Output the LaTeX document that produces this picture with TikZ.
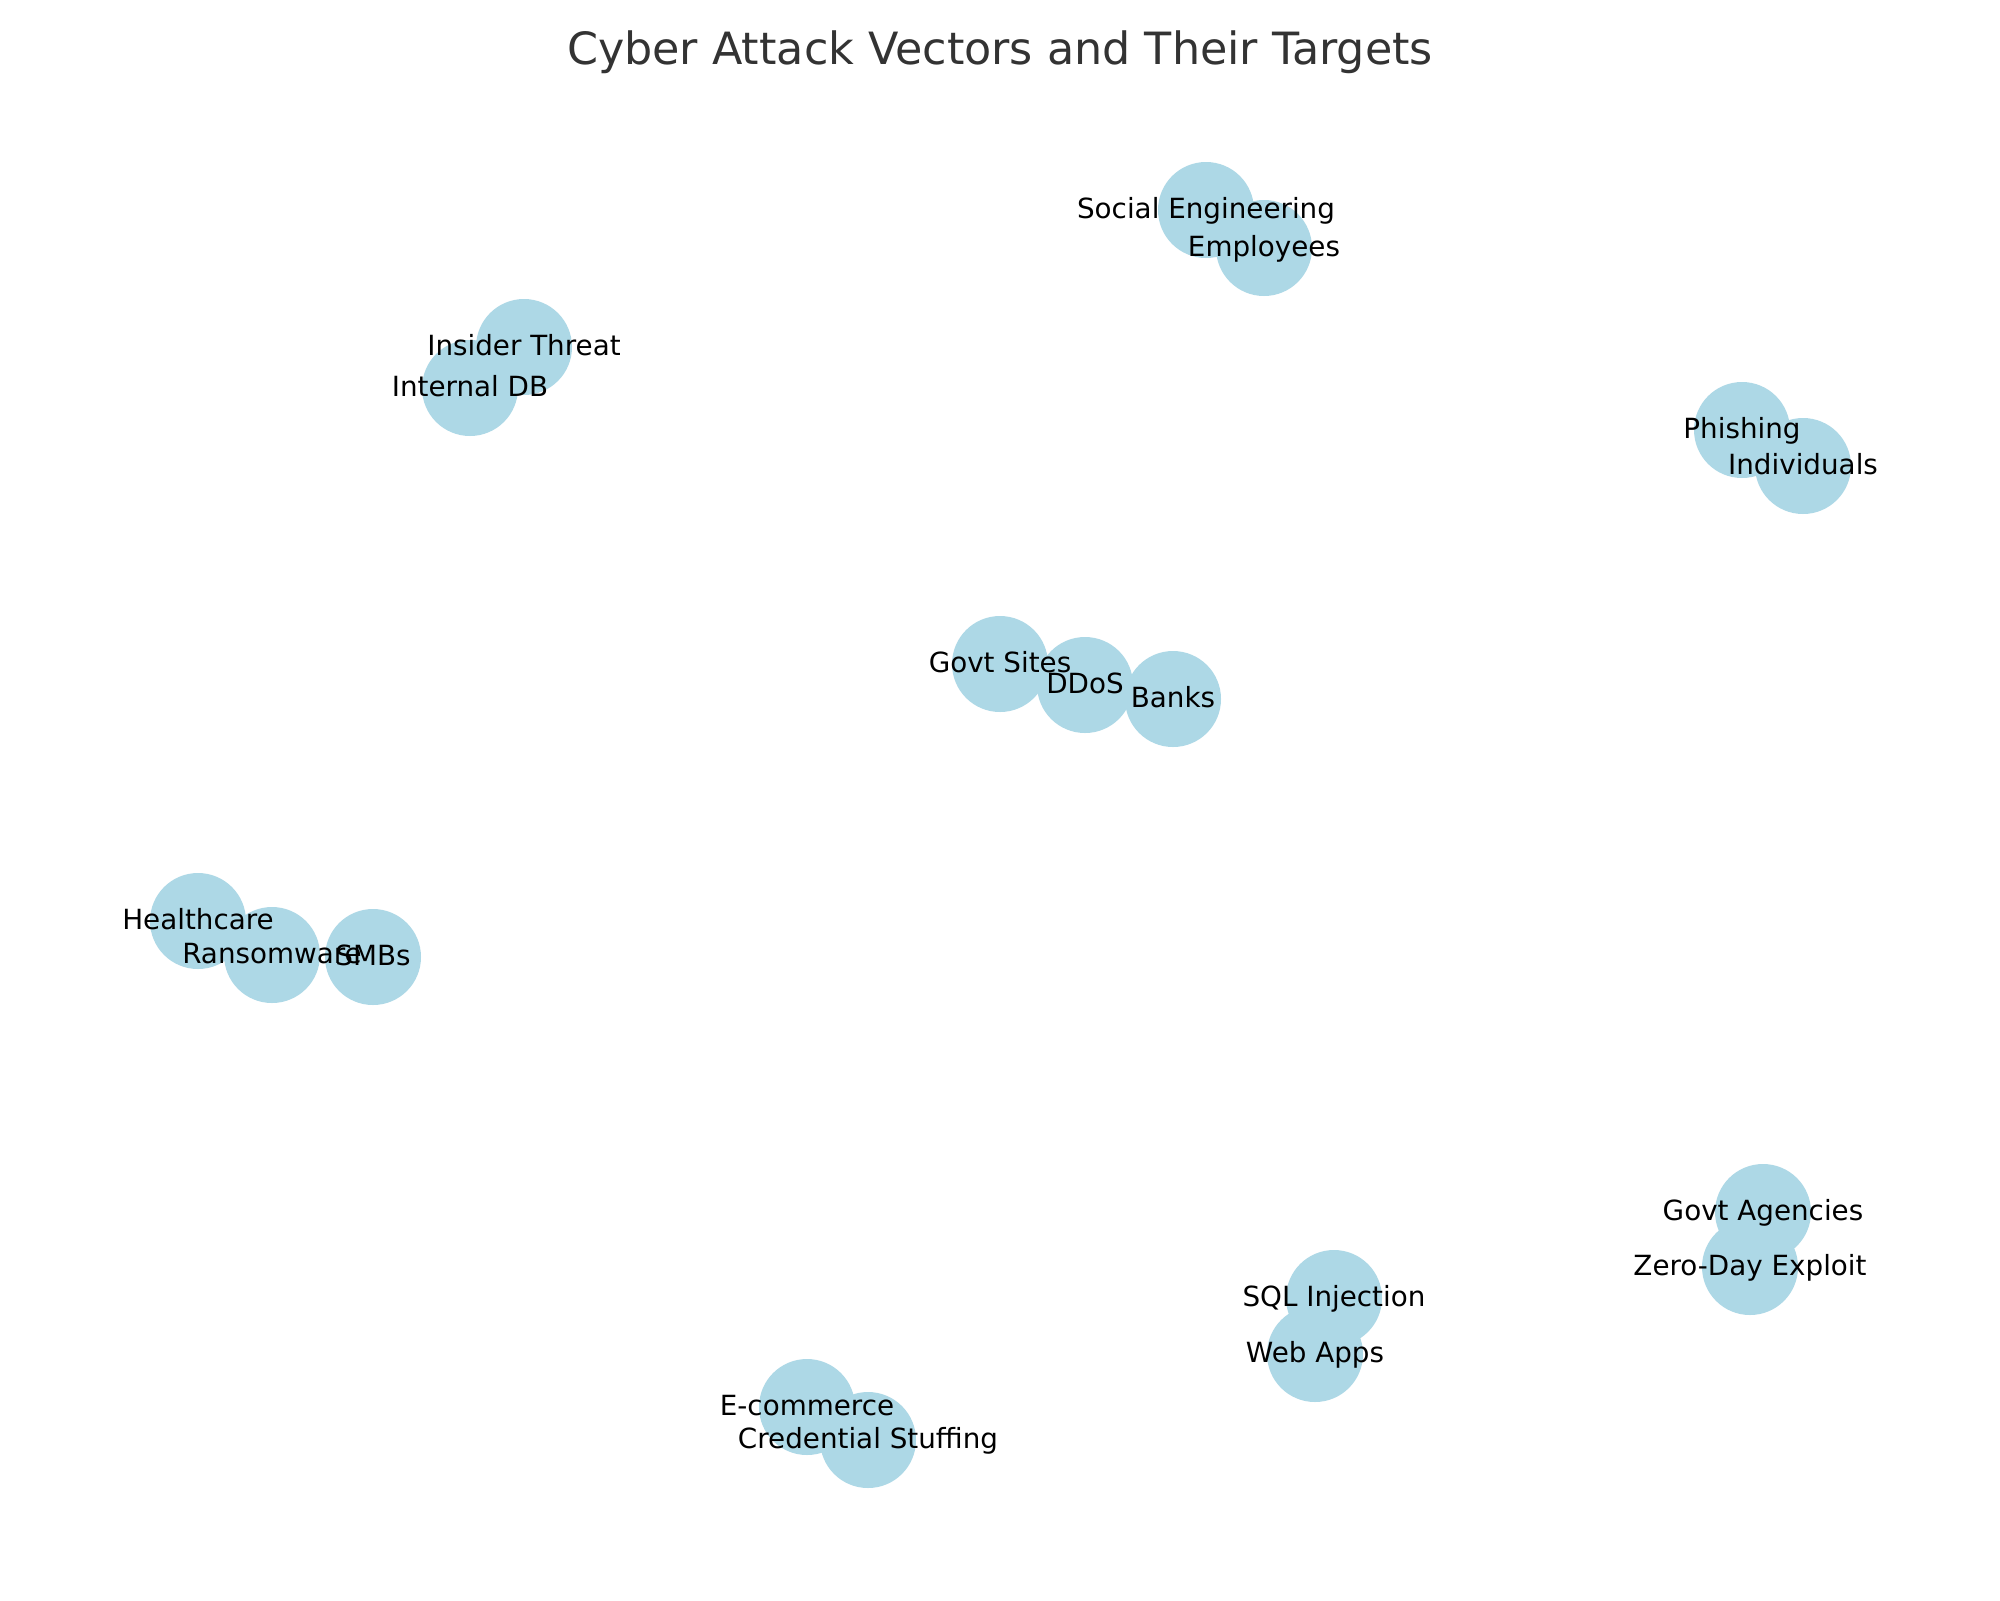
\documentclass[tikz,border=0pt]{standalone}
\usepackage{fontspec}
\setmainfont{DejaVu Sans}
\definecolor{nodeblue}{HTML}{ADD8E6}
\definecolor{titlegray}{HTML}{333333}
\tikzset{
  dot/.style={circle, fill=nodeblue, draw=none, minimum size=34.56pt, inner sep=0pt},
  lbl/.style={anchor=base, inner sep=0pt, font=\fontsize{10}{12}\selectfont, text=black},
}
\newcommand{\gnode}[4]{%
  \node[dot] (#1) at (#2,#3) {};
}
\newcommand{\glabel}[4]{%
  \node[lbl] (#1l) at (#2,#3+8) {#4};
}
\begin{document}
\begin{tikzpicture}[x=0.36pt, y=-0.36pt]
\useasboundingbox (0,0) rectangle (2000,1600);
\fill[white] (0,0) rectangle (2000,1600);
% circles
\gnode{se}{1206}{210}{}
\gnode{emp}{1264}{248}{}
\gnode{it}{524}{347}{}
\gnode{idb}{470}{388}{}
\gnode{ph}{1742}{430}{}
\gnode{ind}{1803}{466}{}
\gnode{gs}{1000}{664}{}
\gnode{ddos}{1085}{685}{}
\gnode{banks}{1173}{699}{}
\gnode{hc}{198}{921}{}
\gnode{rw}{272}{955}{}
\gnode{smb}{373}{957}{}
\gnode{ga}{1763}{1212}{}
\gnode{zd}{1750}{1267}{}
\gnode{sql}{1334}{1298}{}
\gnode{wa}{1315}{1354}{}
\gnode{ec}{807}{1407}{}
\gnode{cs}{868}{1440}{}
% labels
\glabel{se}{1206}{210}{Social Engineering}
\glabel{emp}{1264}{248}{Employees}
\glabel{it}{524}{347}{Insider Threat}
\glabel{idb}{470}{388}{Internal DB}
\glabel{ph}{1742}{430}{Phishing}
\glabel{ind}{1803}{466}{Individuals}
\glabel{gs}{1000}{664}{Govt Sites}
\glabel{ddos}{1085}{685}{DDoS}
\glabel{banks}{1173}{699}{Banks}
\glabel{hc}{198}{921}{Healthcare}
\glabel{rw}{272}{955}{Ransomware}
\glabel{smb}{373}{957}{SMBs}
\glabel{ga}{1763}{1212}{Govt Agencies}
\glabel{zd}{1750}{1267}{Zero-Day Exploit}
\glabel{sql}{1334}{1298}{SQL Injection}
\glabel{wa}{1315}{1354}{Web Apps}
\glabel{ec}{807}{1407}{E-commerce}
\glabel{cs}{868}{1440}{Credential Stuffing}
% title
\node[anchor=base, inner sep=0pt, font=\fontsize{16}{19}\selectfont, text=titlegray] (title) at (1000,64) {Cyber Attack Vectors and Their Targets};
\end{tikzpicture}
\end{document}
